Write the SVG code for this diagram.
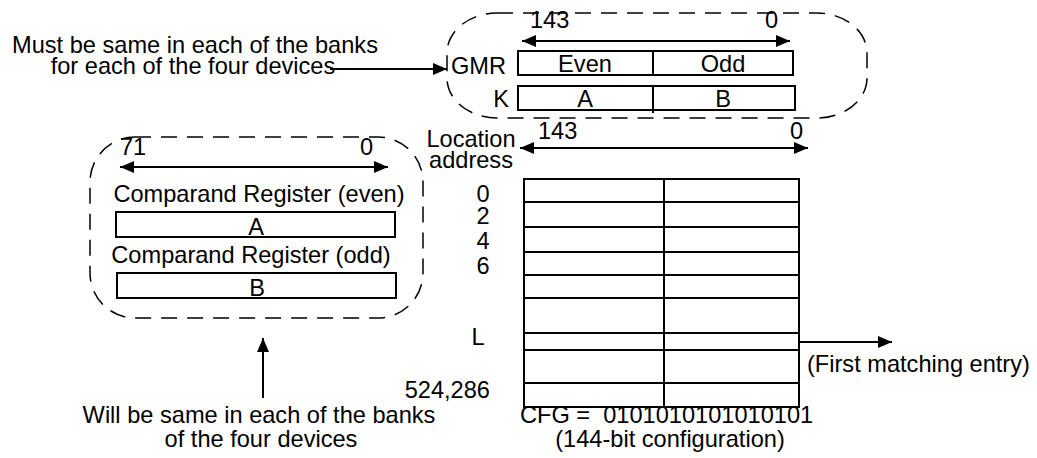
<svg xmlns="http://www.w3.org/2000/svg" width="1037" height="458" viewBox="0 0 1037 458">
<defs>
<marker id="ah" viewBox="0 0 14 12" refX="14" refY="6" markerWidth="14" markerHeight="12" markerUnits="userSpaceOnUse" orient="auto-start-reverse">
<path d="M0,0 L14,6 L0,12 Z" fill="#000"/>
</marker>
<style>
text{font-family:"Liberation Sans",Arial,sans-serif;font-size:23.6px;fill:#000}
.m{text-anchor:middle}
.e{text-anchor:end}
.box{fill:none;stroke:#000;stroke-width:2}
.dash{fill:none;stroke:#000;stroke-width:1.5;stroke-dasharray:16 10}
.ln{fill:none;stroke:#000;stroke-width:2}
</style>
</defs>
<rect width="1037" height="458" fill="#fff"/>

<g id="gmr-group">
<rect class="dash" x="447" y="13" width="420" height="105" rx="50" ry="40"/>
<text x="530" y="28">143</text>
<text x="765" y="28">0</text>
<text x="506" y="74" class="e">GMR</text>
<rect class="box" x="518" y="51" width="275" height="24"/>
<line class="ln" x1="653" y1="51" x2="653" y2="75"/>
<text x="585" y="72" class="m">Even</text>
<text x="723" y="72" class="m">Odd</text>
<text x="509" y="107" class="e">K</text>
<rect class="box" x="518" y="86" width="277" height="24"/>
<line class="ln" x1="653" y1="86" x2="653" y2="113"/>
<text x="585" y="107" class="m">A</text>
<text x="723" y="107" class="m">B</text>
</g>

<g id="comparand-group">
<rect class="dash" x="90" y="137" width="333" height="181" rx="45" ry="45"/>
<text x="120" y="155">71</text>
<text x="360" y="155">0</text>
<text x="259" y="202" class="m">Comparand Register (even)</text>
<rect class="box" x="116" y="212" width="279" height="25"/>
<text x="256" y="235" class="m">A</text>
<text x="251" y="263" class="m">Comparand Register (odd)</text>
<rect class="box" x="117" y="273" width="279" height="25"/>
<text x="257" y="296" class="m">B</text>
</g>

<g id="table">
<text x="471" y="147" class="m">Location</text>
<text x="471" y="168" class="m">address</text>
<text x="538" y="139">143</text>
<text x="790" y="139">0</text>
<text x="483" y="202" class="m">0</text>
<text x="483" y="224" class="m">2</text>
<text x="483" y="249" class="m">4</text>
<text x="483" y="274" class="m">6</text>
<text x="478" y="345" class="m">L</text>
<text x="490" y="398" class="e">524,286</text>
<rect class="box" x="524" y="179" width="275" height="228"/>
<line class="ln" x1="664" y1="179" x2="664" y2="407"/>
<line class="ln" x1="524" y1="202" x2="799" y2="202"/>
<line class="ln" x1="524" y1="227" x2="799" y2="227"/>
<line class="ln" x1="524" y1="252" x2="799" y2="252"/>
<line class="ln" x1="524" y1="275" x2="799" y2="275"/>
<line class="ln" x1="524" y1="298" x2="799" y2="298"/>
<line class="ln" x1="524" y1="333" x2="799" y2="333"/>
<line class="ln" x1="524" y1="350" x2="799" y2="350"/>
<line class="ln" x1="524" y1="383" x2="799" y2="383"/>
<text x="520" y="423" xml:space="preserve">CFG =  0101010101010101</text>
<text x="670" y="447" class="m">(144-bit configuration)</text>
<text x="807" y="372">(First matching entry)</text>
</g>

<g id="note-top">
<text x="195" y="53" class="m">Must be same in each of the banks</text>
<text x="193" y="74" class="m">for each of the four devices</text>
</g>

<g id="note-bottom">
<text x="259" y="423" class="m">Will be same in each of the banks</text>
<text x="261" y="447" class="m">of the four devices</text>
</g>

<g id="connectors">
<line class="ln" x1="522" y1="41" x2="790" y2="41" marker-start="url(#ah)" marker-end="url(#ah)"/>
<line class="ln" x1="120" y1="167" x2="388" y2="167" marker-start="url(#ah)" marker-end="url(#ah)"/>
<line class="ln" x1="520" y1="148" x2="808" y2="148" marker-start="url(#ah)" marker-end="url(#ah)"/>
<line class="ln" x1="330" y1="69" x2="447" y2="69" marker-end="url(#ah)"/>
<line class="ln" x1="799" y1="342" x2="892" y2="342" marker-end="url(#ah)"/>
<line class="ln" x1="263" y1="398" x2="263" y2="338" marker-end="url(#ah)"/>
</g>
</svg>
